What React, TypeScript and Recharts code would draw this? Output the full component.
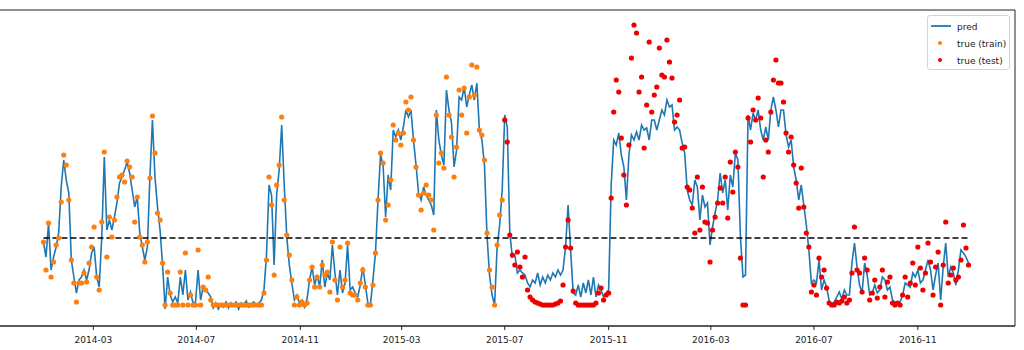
import React from 'react';
import { ComposedChart, Line, XAxis, YAxis, ReferenceLine, ReferenceArea } from 'recharts';

// one sample every 3 days, starting 2014-01-01 (day 0)
const STEP_DAYS = 3;

const predVals = [
  63, 48, 82, 35, 48, 58, 72, 118, 145, 125,
  112, 45, 28, 12, 25, 28, 35, 25, 35, 52,
  58, 28, 18, 68, 148, 75, 85, 75, 88, 102,
  122, 128, 135, 143, 132, 115, 98, 108, 72, 58,
  45, 58, 128, 185, 128, 98, 75, 40, -4, 28,
  10, 3, 8, 2, 28, 10, 35, 5, 13, 2,
  3, 35, 5, 18, 15, 12, 8, -3, 2, -4,
  1, -2, 3, -3, 2, -1, 3, -4, 2, 0,
  4, -2, 1, 3, -1, 2, 5, 15, 50, 120,
  110, 40, 110, 135, 180, 120, 68, 40, 22, 5,
  10, 2, 5, -2, 6, 25, 38, 20, 30, 18,
  45, 18, 32, 25, 60, 32, 10, 35, 12, 22,
  60, 15, 18, 12, 8, 20, 38, 20, 2, 0,
  25, 52, 105, 150, 140, 88, 130, 115, 175, 168,
  175, 165, 178, 195, 188, 195, 165, 140, 112, 105,
  118, 110, 105, 100, 90, 195, 165, 150, 140, 215,
  195, 182, 138, 155, 208, 205, 218, 198, 210, 220,
  205, 222, 175, 165, 140, 70, 30, 10, 0, 58,
  80, 115, 190, 178, 72, 48, 50, 32, 35, 32,
  30, 22, 18, 25, 22, 32, 20, 28, 22, 30,
  25, 32, 28, 35, 30, 35, 58, 100, 55, 12,
  10, 20, 8, 22, 12, 25, 10, 28, 8, 20,
  15, 8, 12, 15, 120, 165, 160, 172, 150, 138,
  105, 150, 170, 165, 173, 165, 180, 175, 177, 165,
  185, 185, 175, 185, 195, 190, 205, 198, 200, 175,
  178, 175, 162, 152, 115, 105, 100, 125, 118, 85,
  110, 98, 102, 60, 78, 92, 105, 132, 112, 125,
  95, 130, 118, 152, 145, 68, 28, 30, 190, 175,
  192, 185, 195, 175, 165, 178, 165, 195, 208, 195,
  178, 195, 195, 170, 158, 165, 138, 125, 105, 120,
  100, 80, 55, 22, 25, 22, 45, 15, 25, 18,
  4, 1, 3, 8, 13, 6, 15, 10, 10, 42,
  62, 38, 20, 12, 42, 30, 10, 12, 20, 12,
  15, 28, 25, 15, 18, 5, 3, 0, 3, 10,
  22, 20, 18, 32, 28, 35, 22, 25, 35, 45,
  35, 15, 30, 42, 5, 38, 62, 28, 38, 32,
  20, 35, 55, 52, 48, 42,
];

// observed values, training period (2014-01-01 .. 2015-06-28)
const trainTrue = [
  63, 35, 82, 28, 43, 60, 67, 103, 150, 140,
  105, 45, 22, 3, 22, 22, 32, 23, 42, 58,
  78, 28, 15, 83, 153, 48, 88, 68, 85, 108,
  128, 130, 123, 144, 138, 128, 83, 108, 68, 60,
  43, 63, 127, 189, 152, 92, 85, 42, 0, 33,
  12, 0, 0, 0, 33, 0, 52, 0, 10, 0,
  0, 55, 0, 18, 15, 28, 5, 0, 0, 0,
  0, 0, 0, 0, 0, 0, 0, 0, 0, 0,
  0, 0, 0, 0, 0, 0, 0, 12, 45, 128,
  100, 30, 120, 140, 188, 105, 70, 50, 25, 0,
  8, 0, 3, 0, 2, 25, 38, 18, 28, 18,
  40, 30, 33, 13, 63, 25, 5, 58, 18, 25,
  62, 12, 10, 10, 5, 22, 35, 18, 0, 0,
  20, 52, 105, 152, 142, 85, 100, 125, 180, 165,
  172, 160, 172, 203, 195, 208, 165, 138, 110, 95,
  112, 120, 110, 105, 75, 190, 142, 152, 137, 228,
  190, 168, 128, 158, 215, 190, 217, 172, 208, 240,
  210, 238, 175, 170, 145, 72, 35, 18, 0, 60,
  90, 105,
];

// observed values, test period (2015-07-01 .. 2016-12-31)
const testTrue = [
  185, 163, 70, 50, 40, 53, 38, 28,
  48, 15, 8, 5, 3, 2, 1, 0, 0, 0,
  0, 0, 1, 2, 4, 20, 58, 85, 57, 14,
  2, 0, 0, 0, 0, 0, 0, 0, 2, 12,
  17, 5, 10, 12, 107, 193, 225, 213, 167, 130,
  100, 160, 247, 280, 272, 213, 228, 157, 200, 263,
  193, 210, 218, 257, 230, 228, 265, 243, 227, 183,
  190, 205, 157, 158, 118, 115, 97, 72, 128, 75,
  118, 83, 82, 43, 75, 88, 102, 117, 102, 128,
  87, 143, 113, 153, 138, 47, 0, 0, 187, 163,
  195, 185, 207, 187, 128, 165, 153, 193, 225, 245,
  222, 222, 203, 172, 153, 168, 140, 122, 97, 137,
  98, 72, 58, 13, 20, 10, 47, 28, 35, 17,
  2, 0, 0, 3, 2, 4, 8, 2, 5, 32,
  78, 35, 32, 13, 47, 35, 5, 12, 25, 7,
  18, 35, 8, 23, 28, 2, 0, 2, 0, 10,
  28, 8, 22, 42, 20, 58, 37, 15, 32, 62,
  43, 10, 38, 53, 0, 40, 83, 22, 30, 37,
  25, 28, 45, 80, 57, 40,
];

const tickDays = [59, 181, 304, 424, 546, 669, 790, 912, 1035];
const tickLabels = ['2014-03', '2014-07', '2014-11', '2015-03', '2015-07', '2015-11', '2016-03', '2016-07', '2016-11'];

const THRESHOLD = 67;
const FIRST_DAY = 0;
const LAST_DAY = (predVals.length - 1) * STEP_DAYS;
const X_DOMAIN: [number, number] = [-55, 1150];
const Y_DOMAIN: [number, number] = [-21, 295];

const BLUE = '#1f77b4';
const ORANGE = '#ff7f0e';
const RED = '#ee0000';
const FONT = '"DejaVu Sans", sans-serif';

const rows = predVals.map((p, i) => ({
  day: i * STEP_DAYS,
  pred: p,
  train: i < trainTrue.length ? trainTrue[i] : null,
  test: i >= trainTrue.length ? testTrue[i - trainTrue.length] : null,
}));

function dotFor(color: string, key: 'train' | 'test') {
  return (props: any) => {
    const { cx, cy, payload, index } = props;
    if (payload == null || payload[key] == null || cx == null || cy == null) {
      return <g key={`${key}-${index}`} />;
    }
    return <circle key={`${key}-${index}`} cx={cx} cy={cy} r={2.6} fill={color} stroke="none" />;
  };
}

function LegendBox() {
  return (
    <svg width={83} height={55} style={{ position: 'absolute', left: 927, top: 15 }}>
      <rect x={0.5} y={0.5} width={82} height={54} rx={2.5} fill="rgba(255,255,255,0.85)" stroke="#d4d4d4" />
      <line x1={4} y1={11} x2={24} y2={11} stroke={BLUE} strokeWidth={1.8} />
      <text x={30} y={14.5} fontSize={9} fontFamily={FONT} fill="#1a1a1a">pred</text>
      <circle cx={13} cy={28} r={2} fill={ORANGE} />
      <text x={30} y={31.5} fontSize={9} fontFamily={FONT} fill="#1a1a1a">true (train)</text>
      <circle cx={13} cy={45} r={2} fill={RED} />
      <text x={30} y={48.5} fontSize={9} fontFamily={FONT} fill="#1a1a1a">true (test)</text>
    </svg>
  );
}

export default function App() {
  return (
    <div style={{ position: 'absolute', left: 0, top: 0, width: 1024, height: 350, overflow: 'hidden', background: '#fff' }}>
      <div style={{ position: 'absolute', left: -3, top: 0 }}>
        <ComposedChart width={1027} height={350} data={rows} margin={{ top: 10, right: 9, left: 0, bottom: 0 }}>
          <XAxis
            dataKey="day"
            type="number"
            domain={X_DOMAIN}
            allowDataOverflow
            ticks={tickDays}
            interval={0}
            tickFormatter={(d: number) => tickLabels[tickDays.indexOf(d)]}
            height={24}
            tickSize={4}
            tickMargin={7}
            axisLine={{ stroke: '#222' }}
            tickLine={{ stroke: '#222' }}
            tick={{ fontSize: 9, fill: '#1a1a1a', fontFamily: FONT }}
          />
          <YAxis hide type="number" domain={Y_DOMAIN} allowDataOverflow />
          <ReferenceArea
            x1={X_DOMAIN[0]}
            x2={X_DOMAIN[1]}
            y1={Y_DOMAIN[0]}
            y2={Y_DOMAIN[1]}
            fill="none"
            stroke="#222"
            strokeWidth={1}
            ifOverflow="visible"
          />
          <Line dataKey="pred" stroke={BLUE} strokeWidth={1.6} dot={false} activeDot={false} isAnimationActive={false} />
          <Line dataKey="train" stroke="none" dot={dotFor(ORANGE, 'train')} activeDot={false} isAnimationActive={false} />
          <Line dataKey="test" stroke="none" dot={dotFor(RED, 'test')} activeDot={false} isAnimationActive={false} />
          <ReferenceLine
            segment={[{ x: FIRST_DAY, y: THRESHOLD }, { x: LAST_DAY, y: THRESHOLD }]}
            stroke="#000"
            strokeWidth={1.5}
            strokeDasharray="6 3"
          />
        </ComposedChart>
      </div>
      <LegendBox />
    </div>
  );
}
